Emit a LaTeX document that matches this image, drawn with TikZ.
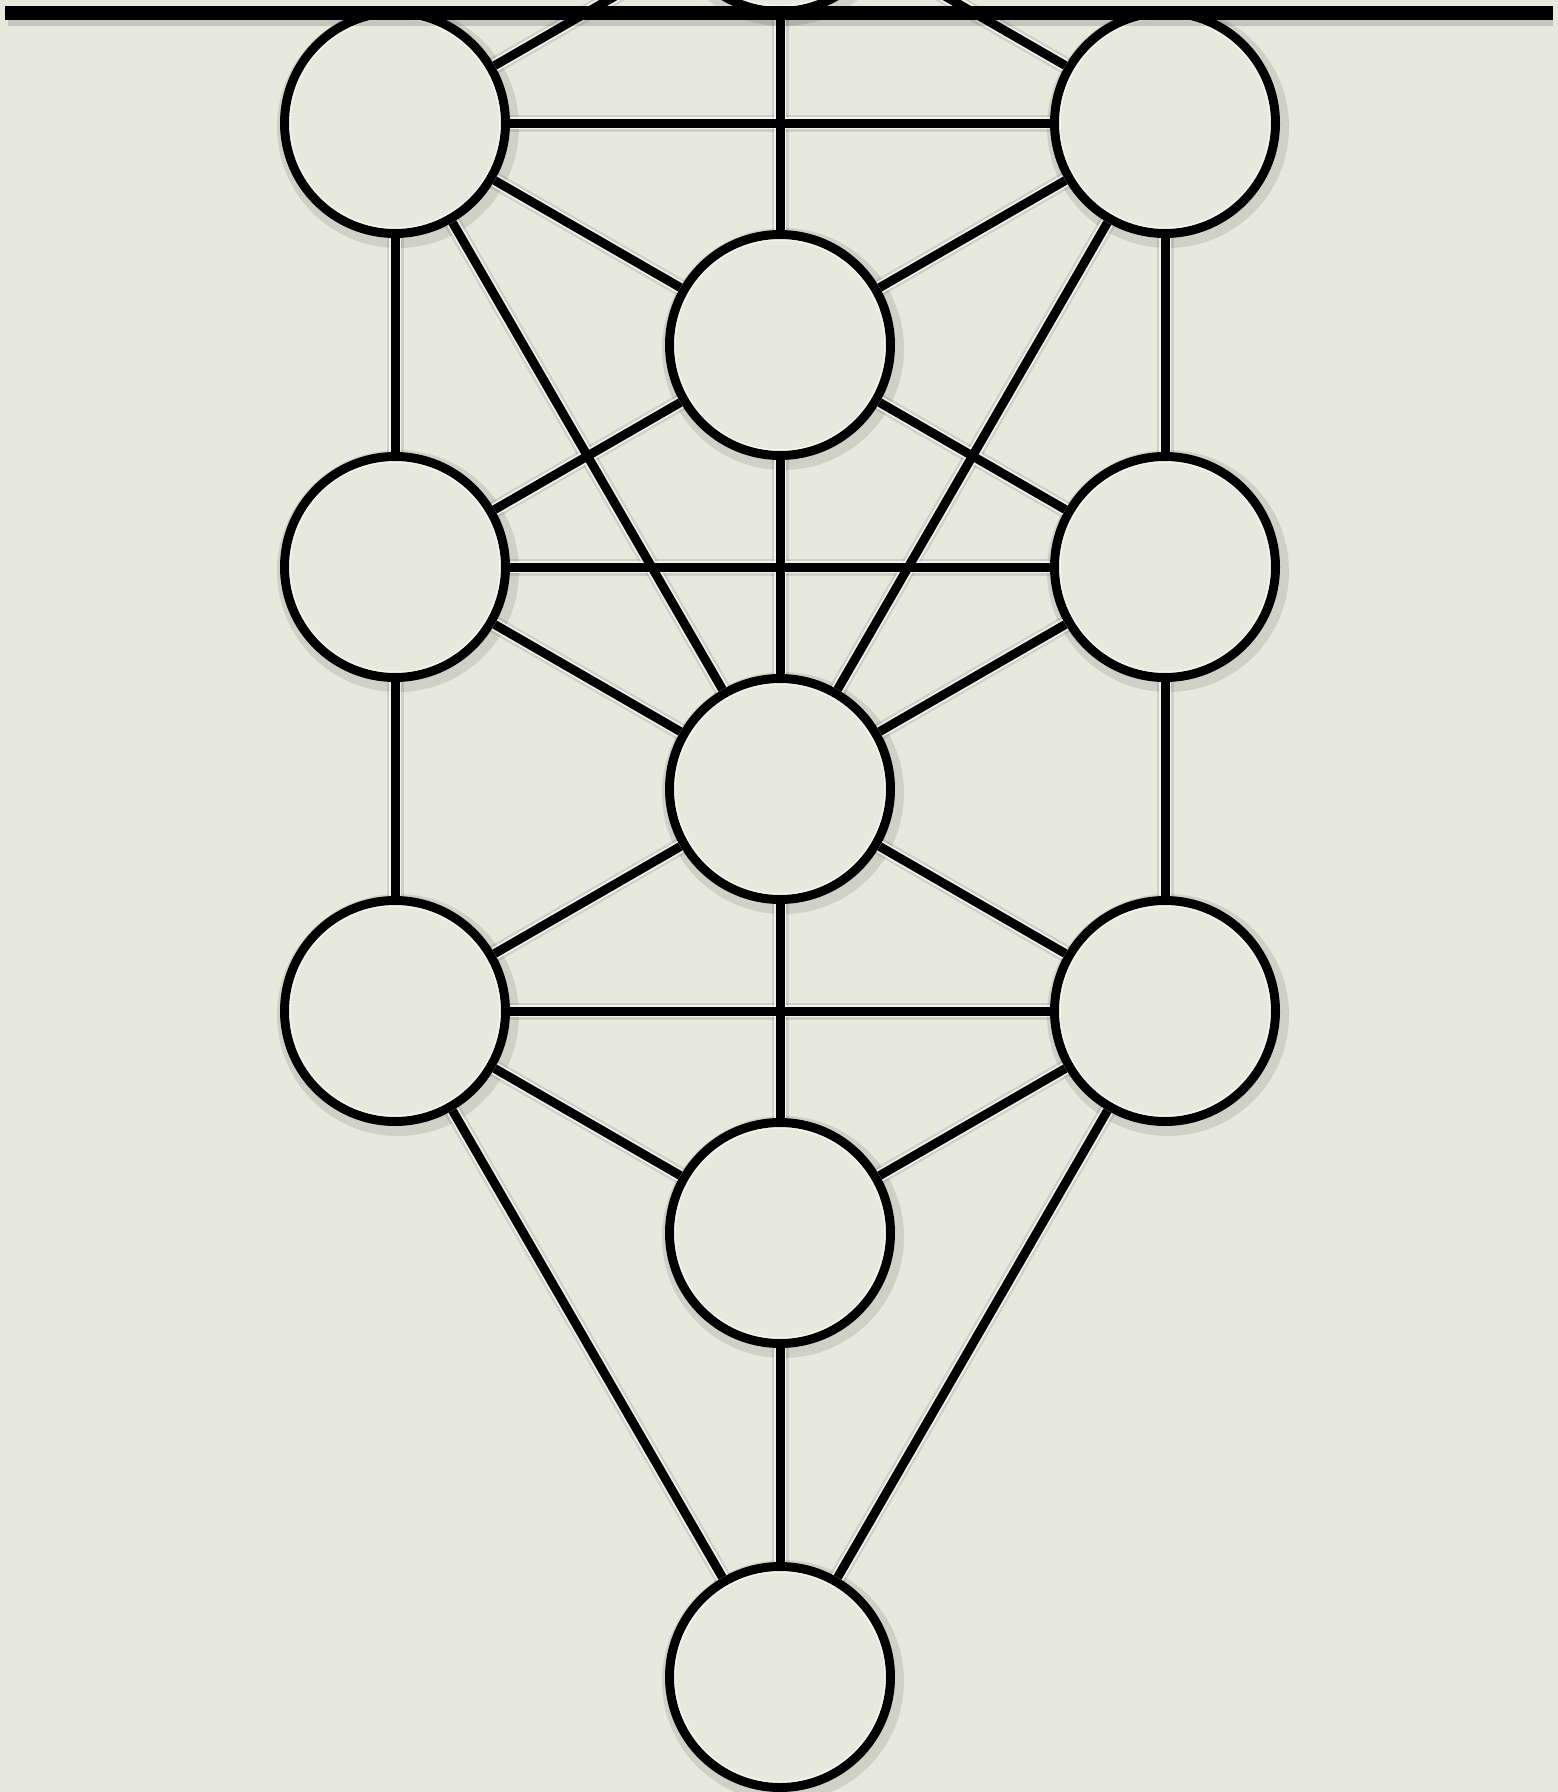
\documentclass[tikz,border=0pt]{standalone}
\definecolor{paper}{RGB}{231,233,221}
\begin{document}
\begin{tikzpicture}[x=1pt,y=-1pt,
  sef/.style={circle, draw=black, line width=9pt, fill=paper, minimum size=221pt, inner sep=0pt},
  sefshadow/.style={black, opacity=0.10, line width=16pt},
  linkshadow/.style={black, opacity=0.10, line width=17pt},
  halo/.style={white, opacity=0.75, line width=12.5pt},
  link/.style={black, line width=9pt}]
\useasboundingbox (0,0) rectangle (1558,1792);
\fill[paper] (0,0) rectangle (1558,1792);
\clip (0,0) rectangle (1558,1792);
% circle shadows
\foreach \p in {(780,-99),(395,123),(1165,123),(780,345),(395,567),(1165,567),(780,789),(395,1011),(1165,1011),(780,1233),(780,1677)}
  \draw[sefshadow, shift={(3,4)}] \p circle[radius=113];
% sephirot
\node[sef] (ke) at (780,-99) {};
\node[sef] (tl) at (395,123) {};
\node[sef] (tr) at (1165,123) {};
\node[sef] (da) at (780,345) {};
\node[sef] (ml) at (395,567) {};
\node[sef] (mr) at (1165,567) {};
\node[sef] (ti) at (780,789) {};
\node[sef] (bl) at (395,1011) {};
\node[sef] (br) at (1165,1011) {};
\node[sef] (ye) at (780,1233) {};
\node[sef] (ma) at (780,1677) {};
% inner highlights
\foreach \n in {ke,tl,tr,da,ml,mr,ti,bl,br,ye,ma}
  \draw[white, opacity=0.5, line width=1.5pt] (\n.center) circle[radius=105];
% paths
\def\links{ke/tl,ke/tr,ke/da,tl/tr,tl/da,tr/da,tl/ml,tr/mr,tl/ti,tr/ti,da/ml,da/mr,da/ti,ml/mr,ml/ti,mr/ti,ml/bl,mr/br,ti/bl,ti/br,ti/ye,bl/br,bl/ye,br/ye,bl/ma,br/ma,ye/ma}
\foreach \a/\b in \links
  \draw[linkshadow, shift={(2,3)}] (\a) -- (\b);
\foreach \a/\b in \links
  \draw[halo] (\a) -- (\b);
\foreach \a/\b in \links
  \draw[link] (\a) -- (\b);
% top bar
\fill[black, opacity=0.15] (8,19) rectangle (1553,26);
\fill[black] (5,6) rectangle (1553,19.5) coordinate (barend);
\end{tikzpicture}
\end{document}
